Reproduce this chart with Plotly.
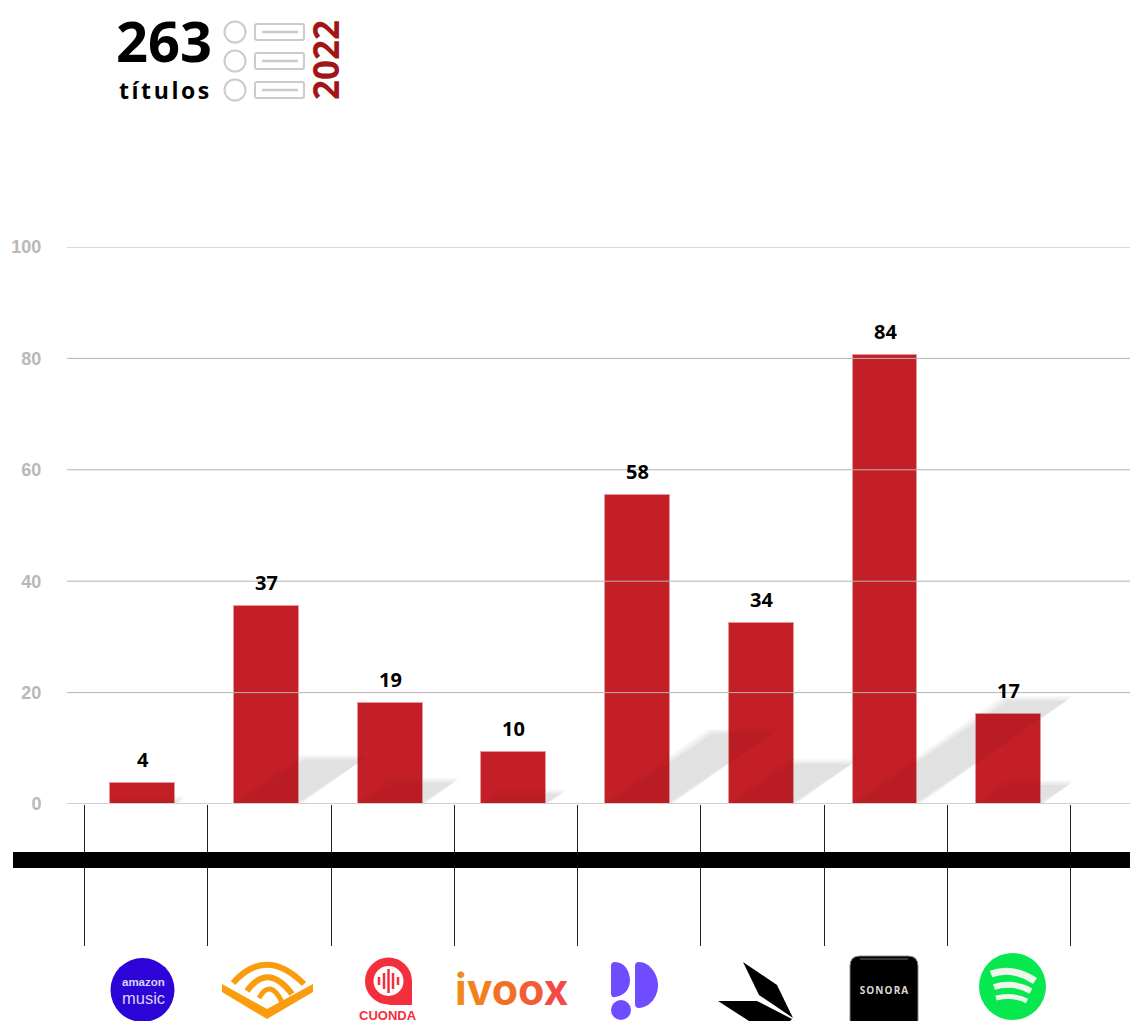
import re
import plotly.graph_objects as go

# ---- data ----
platforms = ["Amazon Music", "Audible", "Cuonda", "iVoox", "Podimo", "Storytel", "Sonora", "Spotify"]
bar_heights = [3.8, 35.5, 18.1, 9.3, 55.5, 32.5, 80.6, 16.2]
bar_labels = [4, 37, 19, 10, 58, 34, 84, 17]
y_ticks = [0, 20, 40, 60, 80, 100]
separators = [0, 1, 2, 3, 4, 5, 6, 7, 8]

W, H = 1130, 1021
RED = "#c41f26"
BAR_WIDTH = 0.525
SHADOW_DX = 0.0153    # sideways lean of a shadow, per unit of bar height
SHADOW_DY = 0.235     # rise of a shadow, per unit of bar height
SHADOW_SOFT = [(0.02, 0.4), (0.0, 0.0), (-0.02, -0.4)]  # layered to soften the edge

def xp(v): return v / W
def yp(v): return 1 - v / H

def path(d):
    """Convert a pixel-space path to paper coordinates."""
    out, isx = [], True
    for tok in re.findall(r"[A-Za-z]|-?\d+\.?\d*", d):
        if tok.isalpha():
            out.append(tok)
            isx = True
        else:
            out.append(f"{xp(float(tok)):.5f}" if isx else f"{yp(float(tok)):.5f}")
            isx = not isx
    res = ""
    for t in out:
        res += (" " + t) if not t[0].isalpha() else t
    return res

shapes, annotations = [], []

def pshape(d, fill=None, line=None, lw=0):
    shapes.append(dict(type="path", xref="paper", yref="paper", path=path(d), layer="above",
                       line=dict(width=lw, color=line or "rgba(0,0,0,0)"),
                       fillcolor=fill or "rgba(0,0,0,0)"))

def circle(cx, cy, rx, ry=None, fill=None, line=None, lw=0):
    ry = ry or rx
    shapes.append(dict(type="circle", xref="paper", yref="paper", layer="above",
                       x0=xp(cx - rx), x1=xp(cx + rx), y0=yp(cy + ry), y1=yp(cy - ry),
                       fillcolor=fill or "rgba(0,0,0,0)",
                       line=dict(width=lw, color=line or "rgba(0,0,0,0)")))

def rrect(x0, y0, x1, y1, r, **kw):
    pshape(f"M{x0+r},{y0} L{x1-r},{y0} Q{x1},{y0} {x1},{y0+r} L{x1},{y1-r} Q{x1},{y1} {x1-r},{y1} "
           f"L{x0+r},{y1} Q{x0},{y1} {x0},{y1-r} L{x0},{y0+r} Q{x0},{y0} {x0+r},{y0} Z", **kw)

def label(text, cx, cy, size, color="#000", font="Open Sans", angle=0):
    annotations.append(dict(text=text, xref="paper", yref="paper", x=xp(cx), y=yp(cy),
                            xanchor="center", yanchor="middle", showarrow=False, textangle=angle,
                            font=dict(family=font, size=size, color=color)))

# ---- shadows (under the bars, plus a faint tint over them) ----
def shadow_xy(i, h, ex=0.0, ey=0.0):
    l, r = i - BAR_WIDTH / 2 - ex, i + BAR_WIDTH / 2 + ex
    dx, dy = h * SHADOW_DX, max(h * SHADOW_DY + ey, 0)
    return [l, r, r + dx, l + dx, l], [0, 0, dy, dy, 0]

for i, h in enumerate(bar_heights):
    for ex, ey in SHADOW_SOFT:
        xs, ys = shadow_xy(i, h, ex, ey)
        d = f"M{xs[0]},{ys[0]} L{xs[1]},{ys[1]} L{xs[2]},{ys[2]} L{xs[3]},{ys[3]} Z"
        shapes.append(dict(type="path", xref="x", yref="y", path=d, layer="below",
                           fillcolor="rgba(0,0,0,0.024)", line=dict(width=0)))

fig = go.Figure()
fig.add_trace(go.Bar(x=list(range(len(platforms))), y=bar_heights, width=BAR_WIDTH,
                     hovertext=platforms, marker=dict(color=RED, line=dict(color="#e09a9c", width=1)),
                     showlegend=False))

for i, h in enumerate(bar_heights):
    for ex, ey in SHADOW_SOFT:
        xs, ys = shadow_xy(i, h, ex, ey)
        fig.add_trace(go.Scatter(x=xs, y=ys, mode="none", fill="toself",
                                 fillcolor="rgba(0,0,0,0.017)", showlegend=False, hoverinfo="skip"))

# separators between the platforms, as ticks of a second x axis
fig.add_trace(go.Scatter(x=separators, y=[0] * len(separators), xaxis="x2", mode="none",
                         showlegend=False, hoverinfo="skip"))

# gridlines run over the bars
for v in y_ticks:
    shapes.append(dict(type="line", xref="paper", yref="y", x0=xp(67), x1=1, y0=v, y1=v, layer="above",
                       line=dict(color="#cfcfcf" if v == 0 else "#b4b4b4", width=2 if v == 0 else 1)))

# value labels
for i, (h, t) in enumerate(zip(bar_heights, bar_labels)):
    annotations.append(dict(text=f"<b>{t}</b>", x=i, y=h, xref="x", yref="y", showarrow=False,
                            yanchor="bottom", yshift=8, font=dict(family="Open Sans", size=20, color="#000")))

# black band
shapes.append(dict(type="rect", xref="paper", yref="paper", x0=xp(13), x1=1, y0=yp(868), y1=yp(852),
                   layer="above", fillcolor="#000", line=dict(width=0)))

# ---- header ----
label("<b>263</b>", 164, 40, 56)
label("<b>títulos</b>", 165, 90, 23)
label("<b>2022</b>", 326, 60, 35, color="#a31515", angle=-90)
for cy in (32, 61, 90):
    circle(235, cy, 10.5, line="#cbcbcb", lw=2)
    rrect(255, cy - 8, 304, cy + 8, 2, line="#cbcbcb", lw=2)
    pshape(f"M262,{cy} L298,{cy}", line="#cbcbcb", lw=2.5)

# ---- logos ----
# Amazon Music
circle(142.5, 990, 32, fill="#2c04d8")
label("<b>amazon</b>", 143, 982, 11.5, color="#d8d4f8", font="Liberation Sans")
label("music", 143, 998, 16.5, color="#d8d4f8", font="Liberation Sans")
# Audible
ORANGE = "#f99d0e"
pshape("M222,984 L267,1009 L313,984 L313,992 L267,1019 L222,992 Z", fill=ORANGE)
pshape("M233,983 Q266,946 304,984", line=ORANGE, lw=6)
pshape("M247,991 Q268,962 292,994", line=ORANGE, lw=6)
pshape("M259,998 Q270,978 282,1002", line=ORANGE, lw=5)
# Cuonda
CRED = "#f42f3d"
circle(388.5, 981, 23.5, fill=CRED)
pshape("M389,981 L412,981 L412,1005 L389,1005 Z", fill=CRED)
circle(388.5, 981, 15, fill="#ffffff")
for x, half in zip((379, 384, 388.5, 393, 398), (4, 8, 12, 8, 4)):
    pshape(f"M{x},{981-half} L{x},{981+half}", line=CRED, lw=2.5)
label("<b>CUONDA</b>", 388, 1015, 13, color=CRED, font="Liberation Sans")
# iVoox
label('<b><span style="color:#f08a1e">i</span><span style="color:#f2801f">v</span>'
      '<span style="color:#f26f28">o</span><span style="color:#f35c35">o</span>'
      '<span style="color:#f44a46">x</span></b>', 512, 989, 43, font="Inter")
# Podimo
PUR = "#6f4cff"
pshape("M611,966 Q611,962 615,962 C625,962 630,972 630,980 C630,988 625,996 615,997 Q611,998 611,993 Z", fill=PUR)
pshape("M635,966 Q635,962 639,962 C650,962 658,975 658,985 C658,997 650,1007 639,1008 Q635,1008 635,1004 Z", fill=PUR)
circle(621, 1010, 10, fill=PUR)
# Arrow mark
pshape("M743,962 L777,985 L793,1018 L759,995 Z", fill="#000")
pshape("M718,1001 L757,1001 L792,1019 L790,1021 L749,1021 Z", fill="#000")
# Sonora
rrect(850, 956, 918, 1030, 10, fill="#000", line="#8a8a8a", lw=1)
pshape("M860,959 L908,959", line="#4a4a4a", lw=1.5)
label("<b>SONORA</b>", 884, 990, 10, color="#d8d8d8", font="Open Sans")
# Spotify
circle(1012.5, 986.5, 33.5, fill="#06e84e")
pshape("M991,974 Q1013,966 1035,981", line="#eef7ee", lw=7)
pshape("M994,987 Q1013,981 1031,991", line="#eef7ee", lw=6)
pshape("M996,998 Q1013,994 1027,1001", line="#eef7ee", lw=5)

fig.update_layout(
    width=W, height=H, margin=dict(l=0, r=0, t=0, b=0, autoexpand=False),
    paper_bgcolor="#fff", plot_bgcolor="#fff", bargap=0, showlegend=False,
    shapes=shapes, annotations=annotations,
    xaxis=dict(domain=[xp(67), 1], range=[(67 - 142.8) / 123.7, (1130 - 142.8) / 123.7],
               showgrid=False, zeroline=False, showticklabels=False, ticks="", fixedrange=True),
    xaxis2=dict(domain=[xp(67), 1], overlaying="x", anchor="y", side="bottom",
                range=[(67 - 84.5) / 123.25, (1130 - 84.5) / 123.25],
                tickvals=separators, showgrid=False, zeroline=False, showticklabels=False,
                ticks="outside", ticklen=141, tickwidth=1, tickcolor="#222", fixedrange=True),
    yaxis=dict(domain=[yp(804), yp(247)], range=[0, 100], tickvals=y_ticks, showgrid=False,
               zeroline=False, ticks="outside", ticklen=21, tickcolor="rgba(0,0,0,0)",
               tickfont=dict(family="Liberation Sans", size=18, color="#b8b8b8", weight=700),
               fixedrange=True),
)

spacing_js = """
document.body.style.margin='0';document.body.style.overflow='hidden';
var sp={'títulos':'2.6px','SONORA':'1.1px'};
document.querySelectorAll('.annotation-text').forEach(function(t){
  if(sp[t.textContent]){t.style.letterSpacing=sp[t.textContent];}
});
"""
fig.write_html("out.html", config=dict(displayModeBar=False), post_script=spacing_js)
